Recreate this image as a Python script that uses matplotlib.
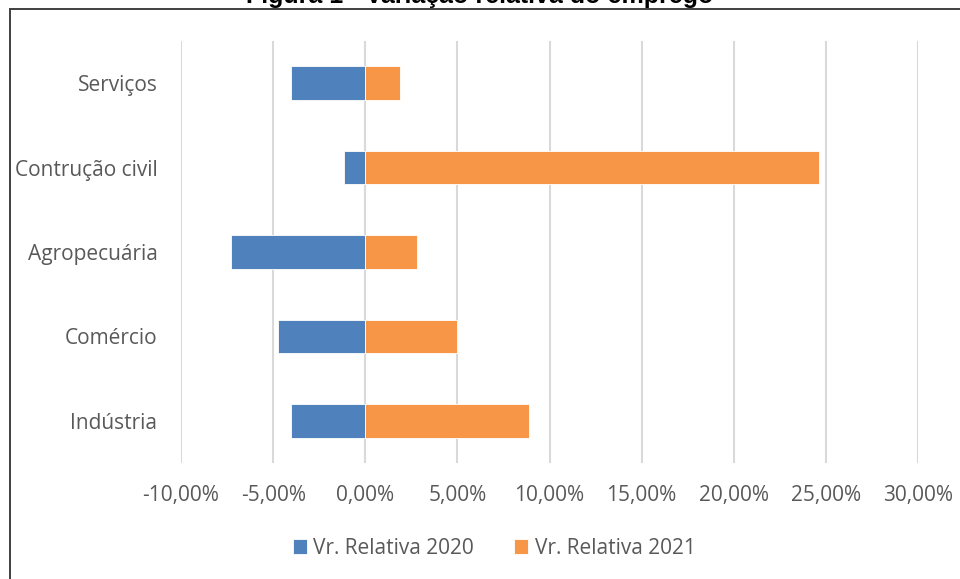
import matplotlib
matplotlib.use("Agg")
import matplotlib.pyplot as plt
from matplotlib.patches import Rectangle
from matplotlib.ticker import FuncFormatter
import numpy as np

categories = ["Indústria", "Comércio", "Agropecuária", "Contrução civil", "Serviços"]
vr2020 = [-4.05, -4.75, -7.3, -1.15, -4.05]
vr2021 = [8.9, 5.0, 2.8, 24.6, 1.9]
xticks = [-10, -5, 0, 5, 10, 15, 20, 25, 30]
title = "Figura 1 - Variação relativa do emprego"

BLUE = "#4F81BD"
ORANGE = "#F79646"
TXT = "#595959"
FONT = ["Open Sans", "DejaVu Sans"]

W, H = 960, 579
fig = plt.figure(figsize=(W / 100, H / 100), dpi=100)

# outer chart border (partially visible)
fig.patches.append(Rectangle((10 / W, -0.1), 1.2, 1 - 9 / H + 0.1, transform=fig.transFigure,
                             fill=False, edgecolor="#404040", linewidth=1.4, clip_on=False))
fig.text(0.5, 1 - 3.0 / H, title, ha="center", va="baseline", fontsize=18,
         fontweight="bold", family=["Liberation Sans", "DejaVu Sans"], color="black")

ax = fig.add_axes([181 / W, 1 - 463 / H, (918 - 181) / W, (463 - 41) / H])
y = np.arange(len(categories))
ax.barh(y, vr2020, height=0.4, color=BLUE, label="Vr. Relativa 2020", zorder=3,
        edgecolor="white", linewidth=0.6)
ax.barh(y, vr2021, height=0.4, color=ORANGE, label="Vr. Relativa 2021", zorder=3,
        edgecolor="white", linewidth=0.6)

ax.set_xlim(-10, 30)
ax.set_ylim(-0.5, len(categories) - 0.5)
ax.set_xticks(xticks)
ax.xaxis.set_major_formatter(FuncFormatter(lambda v, p: f"{v:.2f}%".replace(".", ",")))
ax.set_yticks(y)
ax.set_yticklabels(categories)
ax.grid(axis="x", color="#D9D9D9", linewidth=1.5, zorder=0)
for s in ax.spines.values():
    s.set_visible(False)
ax.tick_params(axis="both", length=0, labelcolor=TXT, labelsize=15)
ax.tick_params(axis="x", pad=16)
ax.tick_params(axis="y", pad=17)
for lab in ax.get_xticklabels() + ax.get_yticklabels():
    lab.set_family(FONT)

leg = fig.legend(loc="center", bbox_to_anchor=(494 / W, 1 - 548 / H), ncol=2, frameon=False,
                 prop={"family": FONT, "size": 15}, handlelength=0.7, handleheight=0.7,
                 handletextpad=0.3, columnspacing=1.9)
for t in leg.get_texts():
    t.set_color(TXT)

fig.savefig("out.png", dpi=100)
